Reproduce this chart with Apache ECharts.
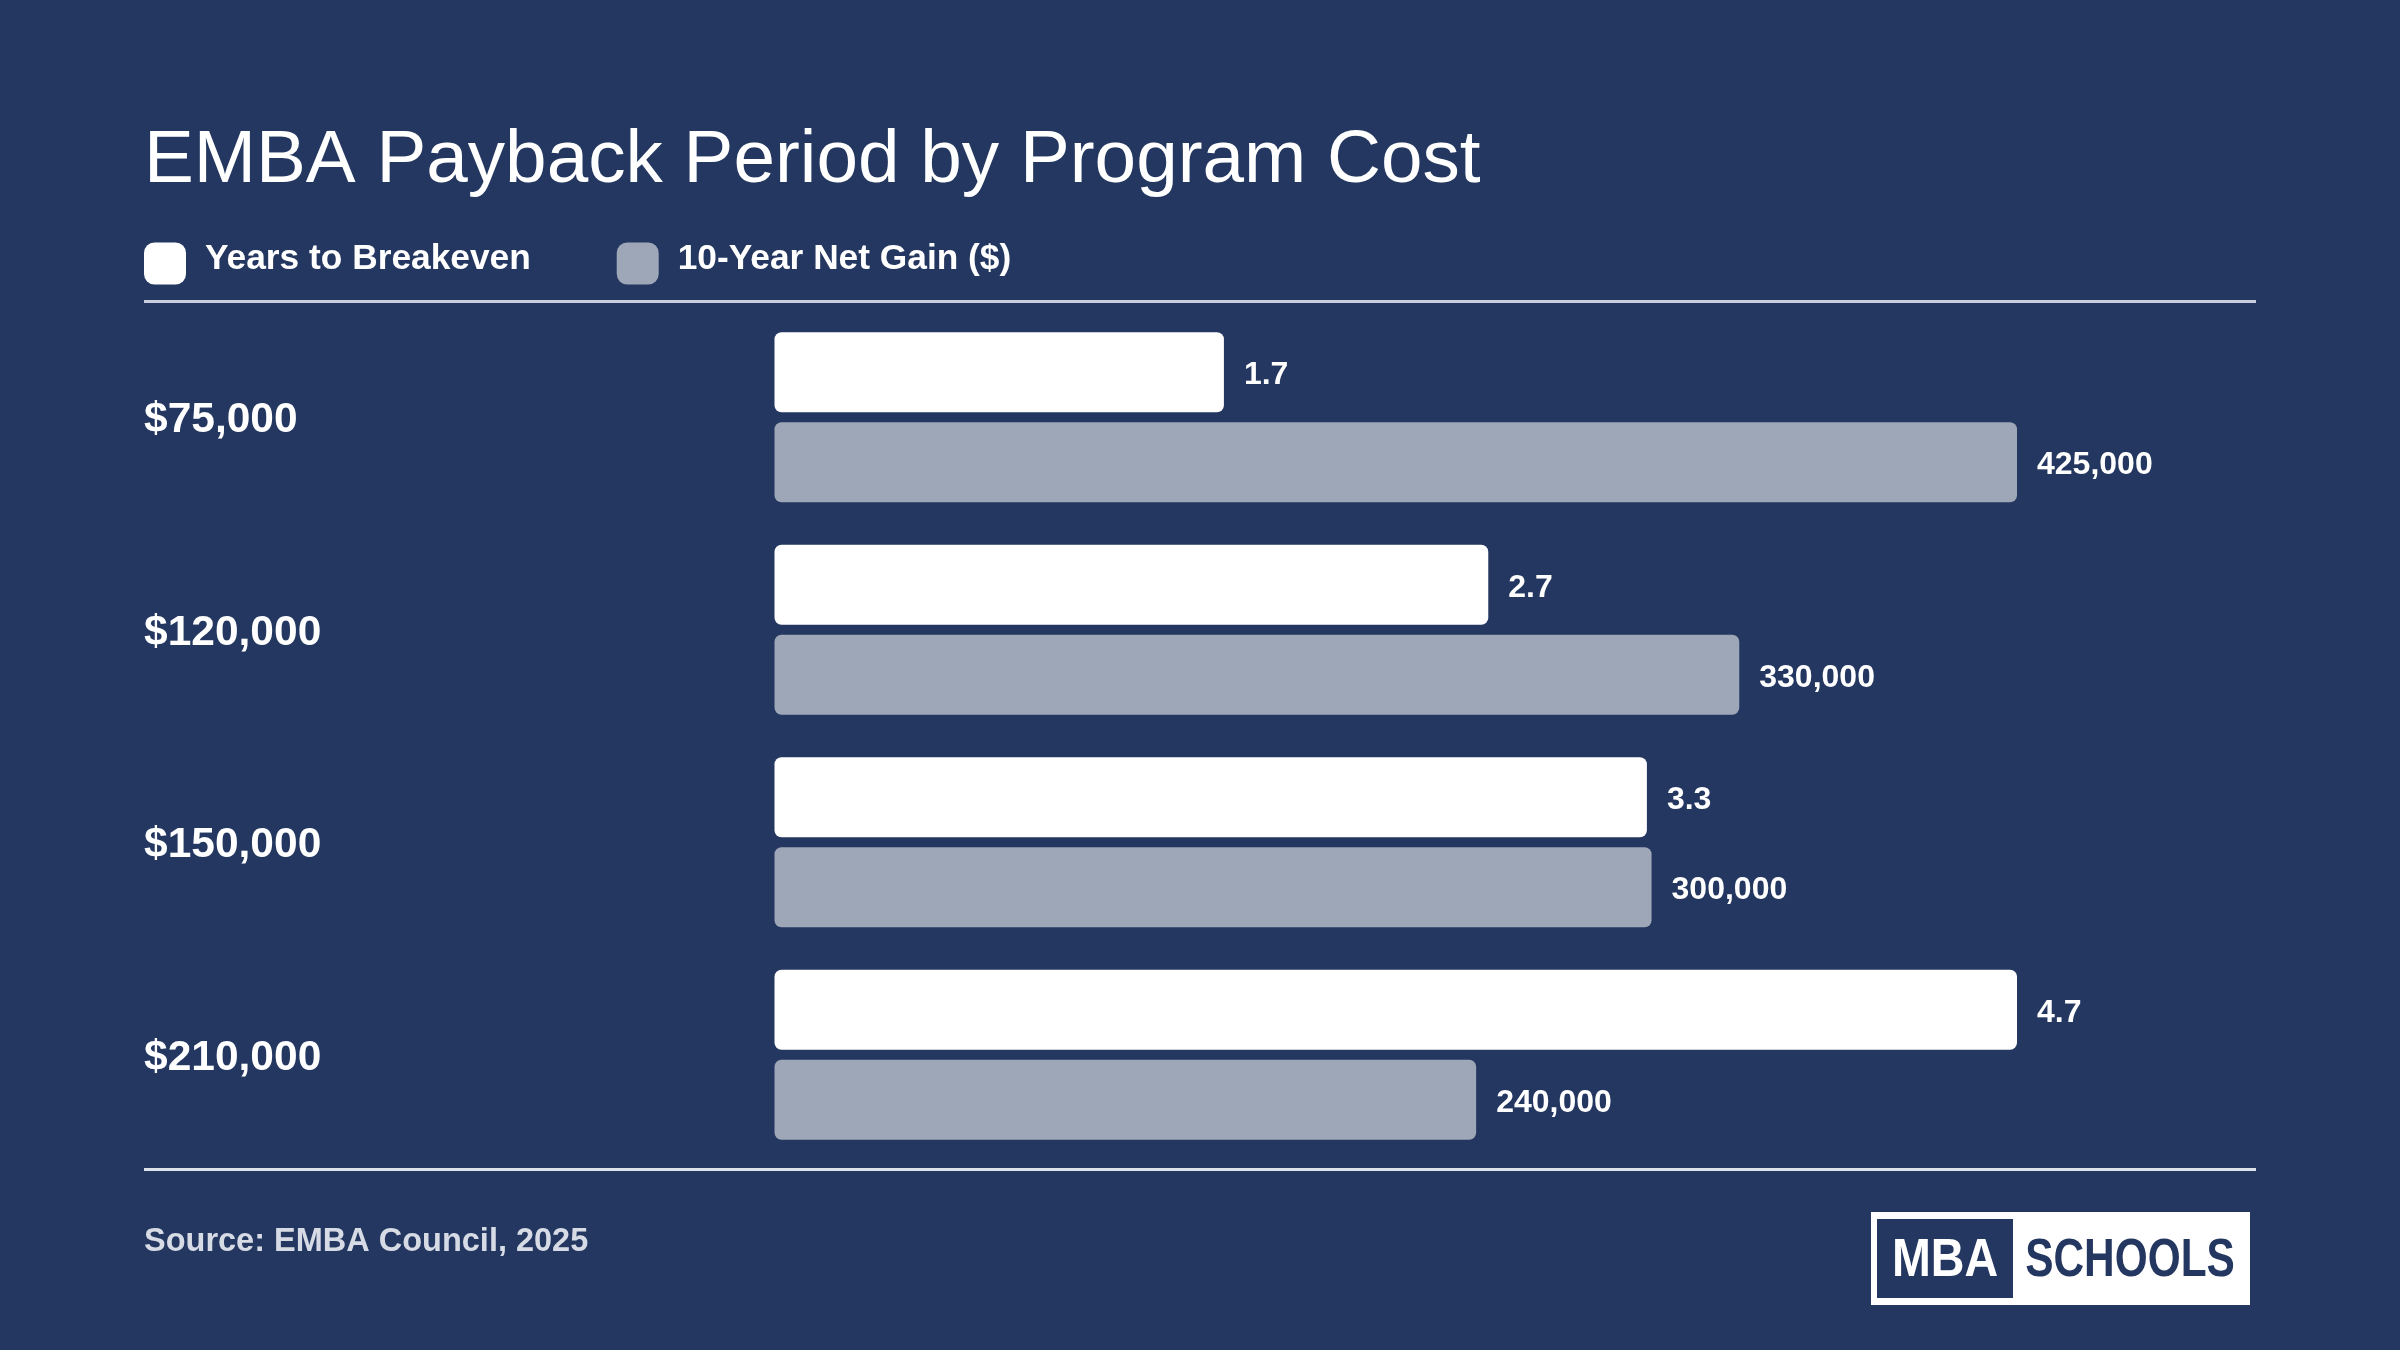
<!DOCTYPE html>
<html>
<head>
<meta charset="utf-8">
<script src="https://cdn.jsdelivr.net/npm/echarts@6/dist/echarts.min.js"></script>
<style>
html,body{margin:0;padding:0;background:#243760;}
#chart{width:2400px;height:1350px;}
</style>
</head>
<body>
<div id="chart"></div>
<script>
const categories = ['$75,000', '$120,000', '$150,000', '$210,000'];
const yearsToBreakeven = [1.7, 2.7, 3.3, 4.7];
const netGain = [425000, 330000, 300000, 240000];
const seriesNames = ['Years to Breakeven', '10-Year Net Gain ($)'];

const FONT = 'Liberation Sans, Arial, Helvetica, sans-serif';
const BG = '#243760';
const chart = echarts.init(document.getElementById('chart'));

chart.setOption({
  backgroundColor: BG,
  animation: false,
  title: {
    text: 'EMBA Payback Period by Program Cost',
    left: 144,
    top: 124,
    padding: 0,
    textStyle: { color: '#ffffff', fontSize: 74.7, fontWeight: 'normal', fontFamily: FONT }
  },
  legend: {
    left: 144,
    top: 242,
    padding: 0,
    itemWidth: 42,
    itemHeight: 42,
    itemGap: 86,
    icon: 'roundRect',
    data: seriesNames,
    formatter: '{t|{name}}',
    textStyle: {
      color: '#ffffff', fontSize: 35.3, fontWeight: 'bold', fontFamily: FONT,
      rich: { t: { color: '#ffffff', fontSize: 35.3, fontWeight: 'bold', fontFamily: FONT, padding: [0, 0, 8, 14] } }
    }
  },
  grid: { left: 774.5, right: 383, top: 311, bottom: 189, containLabel: false },
  xAxis: [
    { type: 'value', min: 0, max: 'dataMax', show: false },
    { type: 'value', min: 0, max: 'dataMax', show: false }
  ],
  yAxis: {
    type: 'category',
    data: categories,
    inverse: true,
    axisLine: { show: false },
    axisTick: { show: false },
    splitLine: { show: false },
    axisLabel: {
      align: 'left', verticalAlign: 'top', lineHeight: 7, margin: 630.5,
      color: '#ffffff', fontSize: 42.5, fontWeight: 'bold', fontFamily: FONT
    }
  },
  series: [
    {
      name: seriesNames[0],
      type: 'bar',
      xAxisIndex: 0,
      data: yearsToBreakeven,
      barWidth: 80,
      barGap: '12.5%',
      itemStyle: { color: '#ffffff', borderRadius: 7 },
      label: {
        show: true, position: 'right', distance: 20, verticalAlign: 'top', lineHeight: 6,
        color: '#ffffff', fontSize: 32, fontWeight: 'bold', fontFamily: FONT,
        formatter: p => p.value.toFixed(1)
      }
    },
    {
      name: seriesNames[1],
      type: 'bar',
      xAxisIndex: 1,
      data: netGain,
      barWidth: 80,
      barGap: '12.5%',
      itemStyle: { color: '#9ea7b8', borderRadius: 7 },
      label: {
        show: true, position: 'right', distance: 20, verticalAlign: 'top', lineHeight: 6,
        color: '#ffffff', fontSize: 32, fontWeight: 'bold', fontFamily: FONT,
        formatter: p => p.value.toLocaleString('en-US')
      }
    }
  ],
  graphic: [
    { type: 'rect', shape: { x: 144, y: 300, width: 2112, height: 3 }, style: { fill: '#c9cfdc' }, silent: true },
    { type: 'rect', shape: { x: 144, y: 1168, width: 2112, height: 3 }, style: { fill: '#dde2ea' }, silent: true },
    {
      type: 'text', x: 144, y: 1242,
      style: { text: 'Source: EMBA Council, 2025', fill: '#d6dbe5', font: 'bold 32.5px ' + FONT, textVerticalAlign: 'middle' }
    },
    { type: 'rect', shape: { x: 1871, y: 1212, width: 379, height: 93 }, style: { fill: '#ffffff' } },
    { type: 'rect', shape: { x: 1877, y: 1219, width: 136, height: 79 }, style: { fill: BG } },
    {
      type: 'text', x: 1945, y: 1261, scaleX: 0.88,
      style: { text: 'MBA', fill: '#ffffff', font: 'bold 53px ' + FONT, textAlign: 'center', textVerticalAlign: 'middle' }
    },
    {
      type: 'text', x: 2130, y: 1261, scaleX: 0.8,
      style: { text: 'SCHOOLS', fill: BG, font: 'bold 53px ' + FONT, textAlign: 'center', textVerticalAlign: 'middle' }
    }
  ]
});
</script>
</body>
</html>
